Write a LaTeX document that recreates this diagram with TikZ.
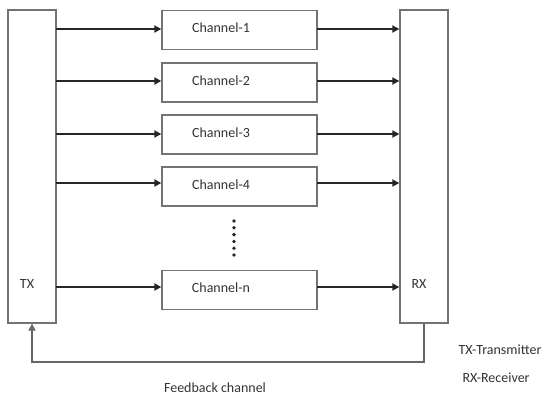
\documentclass[tikz,border=0pt]{standalone}
\usepackage{fontspec}
\setmainfont{Carlito}
\usetikzlibrary{arrows.meta}
\begin{document}
\begin{tikzpicture}[x=1pt,y=-1pt,
  box/.style={draw=black!55,line width=1.3pt,fill=white,inner sep=0pt},
  sig/.style={draw=black!85,line width=1.8pt,-{Triangle[length=7pt,width=7pt]}},
  fb/.style={draw=black!60,line width=1.5pt,-{Triangle[length=7pt,width=7pt]}},
  lbl/.style={font=\fontsize{14}{16}\selectfont,text=black!80}]
\useasboundingbox (0,0) rectangle (548,397);
% transmitter and receiver columns
\node[box,minimum width=48pt,minimum height=313pt] (tx) at (32,166.5) {};
\node[box,minimum width=48pt,minimum height=313pt] (rx) at (424,166.5) {};
\node[lbl] at (27,284) {TX};
\node[lbl] at (419,284) {RX};
% channels
\foreach \n/\lab/\cy/\ay in {1/Channel-1/30/29, 2/Channel-2/82.5/81, 3/Channel-3/134.5/134, 4/Channel-4/186.5/183, n/Channel-n/290/287}{
  \node[box,minimum width=155pt,minimum height=39pt] (ch\n) at (239.5,\cy) {};
  \node[lbl] at (221,\cy-2) {\lab};
  \coordinate (in\n) at (56,\ay);
  \coordinate (out\n) at (317,\ay);
  \draw[sig] (in\n) -- (in\n -| ch\n.west);
  \draw[sig] (out\n) -- (out\n -| rx.west);
}
% ellipsis between channel 4 and channel n
\foreach \k in {0,...,5} \fill[black!85] (234,221+\k*6.8) circle (1.9pt);
% feedback path
\coordinate (fbr) at (424,362);
\coordinate (fbl) at (32,362);
\draw[fb] (rx.south) -- (fbr) -- (fbl) -- (tx.south);
\node[lbl] at (215,388) {Feedback channel};
\node[lbl,anchor=west] at (455,350) {TX-Transmitter};
\node[lbl,anchor=west] at (459,378) {RX-Receiver};
\end{tikzpicture}
\end{document}
